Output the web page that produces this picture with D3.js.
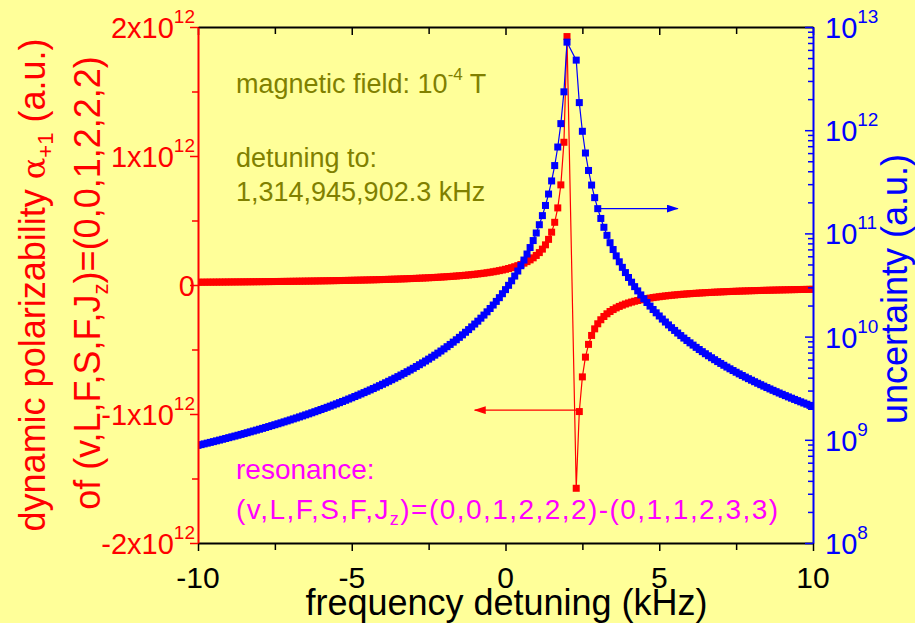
<!DOCTYPE html>
<html><head><meta charset="utf-8">
<script src="https://cdn.jsdelivr.net/npm/d3@7"></script>
<style>
html,body{margin:0;padding:0;background:#ffff99;}
svg{display:block;font-family:"Liberation Sans",Arial,sans-serif;}
text{white-space:pre;}
</style></head><body>
<svg id="c" width="915" height="623"></svg>
<script>
// frequency detuning (kHz)
const detuning = [
-10,-9.9,-9.8,-9.7,-9.6,-9.5,-9.4,-9.3,-9.2,-9.1,
-9,-8.9,-8.8,-8.7,-8.6,-8.5,-8.4,-8.3,-8.2,-8.1,
-8,-7.9,-7.8,-7.7,-7.6,-7.5,-7.4,-7.3,-7.2,-7.1,
-7,-6.9,-6.8,-6.7,-6.6,-6.5,-6.4,-6.3,-6.2,-6.1,
-6,-5.9,-5.8,-5.7,-5.6,-5.5,-5.4,-5.3,-5.2,-5.1,
-5,-4.9,-4.8,-4.7,-4.6,-4.5,-4.4,-4.3,-4.2,-4.1,
-4,-3.9,-3.8,-3.7,-3.6,-3.5,-3.4,-3.3,-3.2,-3.1,
-3,-2.9,-2.8,-2.7,-2.6,-2.5,-2.4,-2.3,-2.2,-2.1,
-2,-1.9,-1.8,-1.7,-1.6,-1.5,-1.4,-1.3,-1.2,-1.1,
-1,-0.9,-0.8,-0.7,-0.6,-0.5,-0.4,-0.3,-0.2,-0.1,
0,0.1,0.2,0.3,0.4,0.5,0.6,0.7,0.8,0.9,
1,1.1,1.2,1.3,1.4,1.5,1.6,1.7,1.8,1.9,
2,
2.3,2.4,2.5,2.6,2.7,2.8,2.9,
3,3.1,3.2,3.3,3.4,3.5,3.6,3.7,3.8,3.9,
4,4.1,4.2,4.3,4.4,4.5,4.6,4.7,4.8,4.9,
5,5.1,5.2,5.3,5.4,5.5,5.6,5.7,5.8,5.9,
6,6.1,6.2,6.3,6.4,6.5,6.6,6.7,6.8,6.9,
7,7.1,7.2,7.3,7.4,7.5,7.6,7.7,7.8,7.9,
8,8.1,8.2,8.3,8.4,8.5,8.6,8.7,8.8,8.9,
9,9.1,9.2,9.3,9.4,9.5,9.6,9.7,9.8,9.9,
10];

// dynamic polarizability, in units of 1e12 a.u.
const polarizability = [
0.0214,0.0216,0.0218,0.0220,0.0222,0.0223,0.0225,0.0227,0.0229,0.0231,
0.0234,0.0236,0.0238,0.0240,0.0242,0.0244,0.0247,0.0249,0.0252,0.0254,
0.0257,0.0259,0.0262,0.0264,0.0267,0.0270,0.0273,0.0276,0.0279,0.0282,
0.0285,0.0288,0.0291,0.0294,0.0298,0.0301,0.0305,0.0308,0.0312,0.0316,
0.0320,0.0324,0.0328,0.0332,0.0336,0.0341,0.0345,0.0350,0.0354,0.0359,
0.0364,0.0370,0.0375,0.0380,0.0386,0.0392,0.0398,0.0404,0.0410,0.0417,
0.0424,0.0431,0.0438,0.0446,0.0453,0.0461,0.0470,0.0478,0.0487,0.0497,
0.0506,0.0516,0.0527,0.0538,0.0549,0.0561,0.0573,0.0586,0.0600,0.0614,
0.0629,0.0644,0.0661,0.0678,0.0696,0.0715,0.0736,0.0757,0.0780,0.0804,
0.0829,0.0857,0.0886,0.0917,0.0951,0.0987,0.1026,0.1068,0.1114,0.1163,
0.1218,0.1278,0.1344,0.1417,0.1499,0.1590,0.1694,0.1812,0.1948,0.2105,
0.2291,0.2512,0.2781,0.3114,0.3537,0.4095,0.4860,0.5977,0.7761,1.1064,
1.9259,
-1.5758,-0.9811,-0.7123,-0.5591,-0.4602,-0.3910,-0.3399,
-0.3006,-0.2694,-0.2441,-0.2232,-0.2055,-0.1905,-0.1775,-0.1661,-0.1562,-0.1473,
-0.1394,-0.1323,-0.1259,-0.1201,-0.1148,-0.1099,-0.1055,-0.1014,-0.0976,-0.0940,
-0.0908,-0.0877,-0.0848,-0.0822,-0.0796,-0.0773,-0.0750,-0.0729,-0.0709,-0.0691,
-0.0673,-0.0656,-0.0640,-0.0624,-0.0610,-0.0596,-0.0582,-0.0570,-0.0557,-0.0546,
-0.0534,-0.0524,-0.0513,-0.0503,-0.0494,-0.0485,-0.0476,-0.0467,-0.0459,-0.0451,
-0.0443,-0.0436,-0.0429,-0.0422,-0.0415,-0.0409,-0.0402,-0.0396,-0.0390,-0.0384,
-0.0379,-0.0373,-0.0368,-0.0363,-0.0358,-0.0353,-0.0348,-0.0344,-0.0339,-0.0335,
-0.0331];

// uncertainty (a.u.)
const uncertainty = [
8.83e8,8.98e8,9.13e8,9.28e8,9.44e8,9.60e8,9.77e8,9.94e8,1.012e9,1.030e9,
1.049e9,1.068e9,1.087e9,1.107e9,1.128e9,1.149e9,1.171e9,1.194e9,1.217e9,1.241e9,
1.266e9,1.291e9,1.317e9,1.344e9,1.372e9,1.400e9,1.430e9,1.460e9,1.492e9,1.524e9,
1.558e9,1.593e9,1.628e9,1.666e9,1.704e9,1.744e9,1.784e9,1.827e9,1.871e9,1.917e9,
1.965e9,2.014e9,2.065e9,2.118e9,2.173e9,2.230e9,2.290e9,2.352e9,2.416e9,2.484e9,
2.553e9,2.627e9,2.703e9,2.783e9,2.866e9,2.953e9,3.044e9,3.139e9,3.239e9,3.344e9,
3.454e9,3.569e9,3.691e9,3.818e9,3.953e9,4.094e9,4.243e9,4.401e9,4.567e9,4.744e9,
4.930e9,5.128e9,5.338e9,5.561e9,5.798e9,6.051e9,6.321e9,6.609e9,6.918e9,7.248e9,
7.603e9,7.985e9,8.396e9,8.839e9,9.319e9,9.838e9,1.040e10,1.102e10,1.169e10,1.242e10,
1.323e10,1.411e10,1.509e10,1.617e10,1.738e10,1.872e10,2.023e10,2.193e10,2.384e10,2.603e10,
2.852e10,3.139e10,3.472e10,3.861e10,4.319e10,4.863e10,5.517e10,6.313e10,7.294e10,8.523e10,
1.009e11,1.214e11,1.487e11,1.865e11,2.406e11,3.224e11,4.542e11,6.870e11,1.158e12,2.354e12,
7.133e12,
4.775e12,1.851e12,9.758e11,6.012e11,4.072e11,2.940e11,2.221e11,
1.737e11,1.396e11,1.146e11,9.578e10,8.124e10,6.977e10,6.057e10,5.308e10,4.689e10,4.173e10,
3.738e10,3.367e10,3.049e10,2.773e10,2.534e10,2.324e10,2.140e10,1.976e10,1.830e10,1.700e10,
1.584e10,1.479e10,1.384e10,1.298e10,1.220e10,1.148e10,1.083e10,1.023e10,9.678e9,9.171e9,
8.703e9,8.269e9,7.867e9,7.494e9,7.147e9,6.823e9,6.521e9,6.238e9,5.974e9,5.726e9,
5.493e9,5.274e9,5.067e9,4.873e9,4.690e9,4.516e9,4.353e9,4.198e9,4.051e9,3.911e9,
3.779e9,3.654e9,3.534e9,3.420e9,3.312e9,3.209e9,3.110e9,3.016e9,2.926e9,2.841e9,
2.758e9,2.680e9,2.604e9,2.532e9,2.463e9,2.397e9,2.333e9,2.272e9,2.213e9,2.156e9,
2.102e9];

// axis ticks and labels
const xTicks = [-10,-5,0,5,10];
const xTickLabels = ["-10","-5","0","5","10"];
const xMinorTicks = [-7.5,-2.5,2.5,7.5];
const leftTicks = [-2,-1,0,1,2];
const leftTickLabels = [["-2x10","12"],["-1x10","12"],["0",""],["1x10","12"],["2x10","12"]];
const leftMinorTicks = [-1.5,-0.5,0.5,1.5];
const rightTicks = [1e8,1e9,1e10,1e11,1e12,1e13];
const rightTickExps = ["8","9","10","11","12","13"];

// annotation arrows (data coordinates)
const arrowPolar = {x1:2.4, x2:-1.0, y:-0.97};
const arrowUnc = {x1:3.0, x2:5.6, y:1.74e11};

const L=198, R=813, T=27, B=543;
const RED="#ff0000", BLUE="#0000ff", OLIVE="#808000", MAG="#ff00ff";
const svg = d3.select("#c");
const x = d3.scaleLinear().domain([-10,10]).range([L,R]);
const yL = d3.scaleLinear().domain([-2,2]).range([B,T]);
const yR = d3.scaleLog().domain([1e8,1e13]).range([B,T]);

const defs = svg.append("defs");
defs.append("clipPath").attr("id","pc").append("rect")
  .attr("x",L).attr("y",T).attr("width",R-L).attr("height",B-T);
function head(id,color){
  defs.append("marker").attr("id",id).attr("viewBox","0 0 12 8").attr("refX",11).attr("refY",4)
    .attr("markerWidth",12).attr("markerHeight",8).attr("markerUnits","userSpaceOnUse").attr("orient","auto")
    .append("path").attr("d","M0,0L12,4L0,8Z").attr("fill",color);
}
head("ahR",RED); head("ahB",BLUE);

const pts = detuning.map((d,i)=>({x:d,a:polarizability[i],u:uncertainty[i]}));
const plot = svg.append("g").attr("clip-path","url(#pc)");
const MS = 7;
// polarizability series
plot.append("path").datum(pts).attr("fill","none").attr("stroke",RED).attr("stroke-width",1.2)
  .attr("d",d3.line().x(d=>x(d.x)).y(d=>yL(d.a)));
plot.selectAll(".pr").data(pts).join("rect").attr("class","pr")
  .attr("x",d=>x(d.x)-MS/2).attr("y",d=>yL(d.a)-MS/2).attr("width",MS).attr("height",MS).attr("fill",RED);
// uncertainty series
plot.append("path").datum(pts).attr("fill","none").attr("stroke",BLUE).attr("stroke-width",1.2)
  .attr("d",d3.line().x(d=>x(d.x)).y(d=>yR(d.u)));
plot.selectAll(".pb").data(pts).join("rect").attr("class","pb")
  .attr("x",d=>x(d.x)-MS/2).attr("y",d=>yR(d.u)-MS/2).attr("width",MS).attr("height",MS).attr("fill",BLUE);

// arrows
svg.append("line").attr("x1",x(arrowPolar.x1)).attr("x2",x(arrowPolar.x2))
  .attr("y1",yL(arrowPolar.y)).attr("y2",yL(arrowPolar.y))
  .attr("stroke",RED).attr("stroke-width",1.2).attr("marker-end","url(#ahR)");
svg.append("line").attr("x1",x(arrowUnc.x1)).attr("x2",x(arrowUnc.x2))
  .attr("y1",yR(arrowUnc.y)).attr("y2",yR(arrowUnc.y))
  .attr("stroke",BLUE).attr("stroke-width",1.2).attr("marker-end","url(#ahB)");

// axes
function ax(axis,tx,ty,color,keepDomain){
  const g = svg.append("g").attr("transform",`translate(${tx},${ty})`).call(axis);
  g.selectAll("text").remove();
  g.selectAll(".tick line").attr("stroke",color).attr("stroke-width",1.5);
  if(keepDomain) g.select(".domain").attr("stroke",color).attr("stroke-width",2);
  else g.select(".domain").remove();
  return g;
}
ax(d3.axisBottom(x).tickValues(xTicks).tickSize(8).tickSizeOuter(0),0,B,"#000",true);
ax(d3.axisBottom(x).tickValues(xMinorTicks).tickSize(7).tickSizeOuter(0),0,B,"#000",false);
ax(d3.axisBottom(x).tickValues(xTicks).tickSize(8).tickSizeOuter(0),0,T,"#000",true);
ax(d3.axisBottom(x).tickValues(xMinorTicks).tickSize(7).tickSizeOuter(0),0,T,"#000",false);
ax(d3.axisLeft(yL).tickValues(leftTicks).tickSize(8).tickSizeOuter(0),L,0,RED,true);
ax(d3.axisLeft(yL).tickValues(leftMinorTicks).tickSize(6).tickSizeOuter(0),L,0,RED,false);
const rMinor = yR.ticks().filter(v=>!rightTicks.some(t=>Math.abs(t-v)/t<1e-6));
ax(d3.axisLeft(yR).tickValues(rightTicks).tickSize(8).tickSizeOuter(0),R,0,BLUE,true);
ax(d3.axisLeft(yR).tickValues(rMinor).tickSize(5).tickSizeOuter(0),R,0,BLUE,false);

// tick labels
svg.selectAll(".xl").data(xTicks).join("text").attr("class","xl")
  .attr("x",d=>x(d)).attr("y",588).attr("text-anchor","middle").attr("fill","#000")
  .style("font-size","30px").text((d,i)=>xTickLabels[i]);
svg.selectAll(".ll").data(leftTicks).join("text").attr("class","ll")
  .attr("x",195).attr("y",d=>yL(d)+11).attr("text-anchor","end").attr("fill",RED)
  .style("font-size","29px")
  .each(function(d,i){
    const t=d3.select(this);
    t.append("tspan").text(leftTickLabels[i][0]);
    if(leftTickLabels[i][1]) t.append("tspan").attr("dy",-15).style("font-size","19px").text(leftTickLabels[i][1]);
  });
svg.selectAll(".rl").data(rightTicks).join("text").attr("class","rl")
  .attr("x",825).attr("y",d=>yR(d)+11).attr("fill",BLUE).style("font-size","29px")
  .each(function(d,i){
    const t=d3.select(this);
    t.append("tspan").text("10");
    t.append("tspan").attr("dy",-15).style("font-size","19px").text(rightTickExps[i]);
  });

// axis titles
svg.append("text").attr("x",(L+R)/2+1).attr("y",615).attr("text-anchor","middle")
  .style("font-size","36px").attr("fill","#000").text("frequency detuning (kHz)");
const t1 = svg.append("text").attr("transform","translate(45,285) rotate(-90)")
  .attr("text-anchor","middle").attr("fill",RED).style("font-size","36px");
t1.append("tspan").text("dynamic polarizability ");
t1.append("tspan").style("font-family","'DejaVu Serif',serif").style("font-size","32px").text("\u03b1");
t1.append("tspan").attr("dy",8).style("font-size","22px").text("+1");
t1.append("tspan").attr("dy",-8).text(" (a.u.)");
const t2 = svg.append("text").attr("transform","translate(100,283) rotate(-90)")
  .attr("text-anchor","middle").attr("fill",RED).style("font-size","36px");
t2.append("tspan").text("of (v,L,F,S,F,J");
t2.append("tspan").attr("dy",8).style("font-size","22px").text("z");
t2.append("tspan").attr("dy",-8).text(")=(0,0,1,2,2,2)");
svg.append("text").attr("transform","translate(907,289) rotate(-90)")
  .attr("text-anchor","middle").attr("fill",BLUE).style("font-size","36px").text("uncertainty (a.u.)");

// annotations
const a1 = svg.append("text").attr("x",236).attr("y",93).attr("fill",OLIVE).style("font-size","27px");
a1.append("tspan").text("magnetic field: 10");
a1.append("tspan").attr("dy",-13).style("font-size","17px").text("-4");
a1.append("tspan").attr("dy",13).text(" T");
svg.append("text").attr("x",236).attr("y",167).attr("fill",OLIVE).style("font-size","27px").text("detuning to:");
svg.append("text").attr("x",236).attr("y",201).attr("fill",OLIVE).style("font-size","27px").text("1,314,945,902.3 kHz");
svg.append("text").attr("x",236).attr("y",479).attr("fill",MAG).style("font-size","28px").text("resonance:");
const a2 = svg.append("text").attr("x",236).attr("y",519).attr("fill",MAG).style("font-size","28px")
  .attr("textLength",542).attr("lengthAdjust","spacing");
a2.append("tspan").text("(v,L,F,S,F,J");
a2.append("tspan").attr("dy",6).style("font-size","18px").text("z");
a2.append("tspan").attr("dy",-6).text(")=(0,0,1,2,2,2)-(0,1,1,2,3,3)");
</script>
</body></html>
